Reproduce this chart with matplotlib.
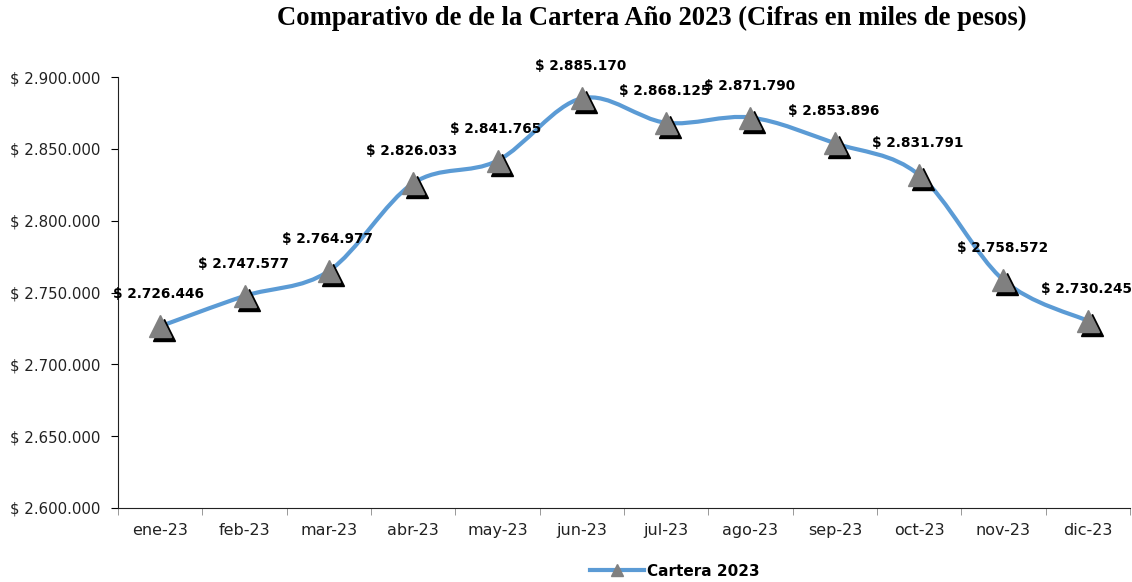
import matplotlib
matplotlib.use("Agg")
import matplotlib.pyplot as plt
import matplotlib.transforms as mtransforms
from matplotlib.path import Path
from matplotlib.patches import PathPatch
from matplotlib.lines import Line2D
import numpy as np

months = ["ene-23", "feb-23", "mar-23", "abr-23", "may-23", "jun-23",
          "jul-23", "ago-23", "sep-23", "oct-23", "nov-23", "dic-23"]
cartera = [2726446, 2747577, 2764977, 2826033, 2841765, 2885170,
           2868125, 2871790, 2853896, 2831791, 2758572, 2730245]
yticks = [2600000, 2650000, 2700000, 2750000, 2800000, 2850000, 2900000]
series_name = "Cartera 2023"
title = "Comparativo de de la Cartera Año 2023 (Cifras en miles de pesos)"

def fmt(v):
    return "$ " + f"{v:,.0f}".replace(",", ".")

fig = plt.figure(figsize=(11.32, 5.82), dpi=100)
ax = fig.add_axes([118/1132, 1-508/582, (1130-118)/1132, (508-77)/582])

x = np.arange(len(months))
ax.set_xlim(-0.5, len(months)-0.5)
ax.set_ylim(2600000, 2900000)

# smooth (Excel-like) curve as Bezier path through the data points
xs = np.array(x, dtype=float)
ys = np.array(cartera, dtype=float)
verts = [(xs[0], ys[0])]
codes = [Path.MOVETO]
t = 1/6
for i in range(len(xs)-1):
    p0 = (xs[i-1], ys[i-1]) if i > 0 else (xs[i], ys[i])
    p1 = (xs[i], ys[i]); p2 = (xs[i+1], ys[i+1])
    p3 = (xs[i+2], ys[i+2]) if i+2 < len(xs) else p2
    c1 = (p1[0] + (p2[0]-p0[0])*t, p1[1] + (p2[1]-p0[1])*t)
    c2 = (p2[0] - (p3[0]-p1[0])*t, p2[1] - (p3[1]-p1[1])*t)
    verts += [c1, c2, p2]
    codes += [Path.CURVE4]*3
line_color = "#5B9BD5"
ax.add_patch(PathPatch(Path(verts, codes), fill=False, edgecolor=line_color,
                       lw=3, zorder=2, capstyle="round"))

# shadowed triangle markers
shadow = ax.transData + mtransforms.ScaledTranslation(4/100, -4/100, fig.dpi_scale_trans)
ax.plot(x, cartera, ls="none", marker="^", ms=16, color="black", transform=shadow, zorder=3)
ax.plot(x, cartera, ls="none", marker="^", ms=16, color="#808080", zorder=4)

for xi, v in zip(x, cartera):
    ax.annotate(fmt(v), (xi, v), xytext=(-1, 23), textcoords="offset points",
                ha="center", va="center", fontsize=9.8, fontweight="bold",
                family="DejaVu Sans", color="black", zorder=5)

ax.set_yticks(yticks)
ax.set_yticklabels([fmt(v) for v in yticks], fontsize=10.8, color="#222222")
ax.set_xticks(x)
ax.set_xticklabels(months, fontsize=11.5, color="#222222")
ax.set_xticks(np.arange(-0.5, len(months)), minor=True)
ax.tick_params(axis="x", which="major", length=0, pad=11)
ax.tick_params(axis="x", which="minor", length=5, color="#888888")
ax.tick_params(axis="y", length=5, pad=8)
for s in ["top", "right"]:
    ax.spines[s].set_visible(False)
ax.spines["bottom"].set_color("#222222")
ax.spines["left"].set_color("#222222")

fig.text(652/1132, 1-18/582, title, ha="center", va="center", fontsize=19.2,
         fontweight="bold", family="Liberation Serif")

h = Line2D([], [], color=line_color, lw=3, marker="^", ms=8,
           markerfacecolor="#808080", markeredgecolor="#808080")
fig.legend([h], [series_name], loc="center", bbox_to_anchor=(675/1132, 1-571/582),
           frameon=False, prop={"weight": "bold", "size": 11}, handlelength=3.5,
           handletextpad=0.2)

fig.savefig("out.png", dpi=100)
